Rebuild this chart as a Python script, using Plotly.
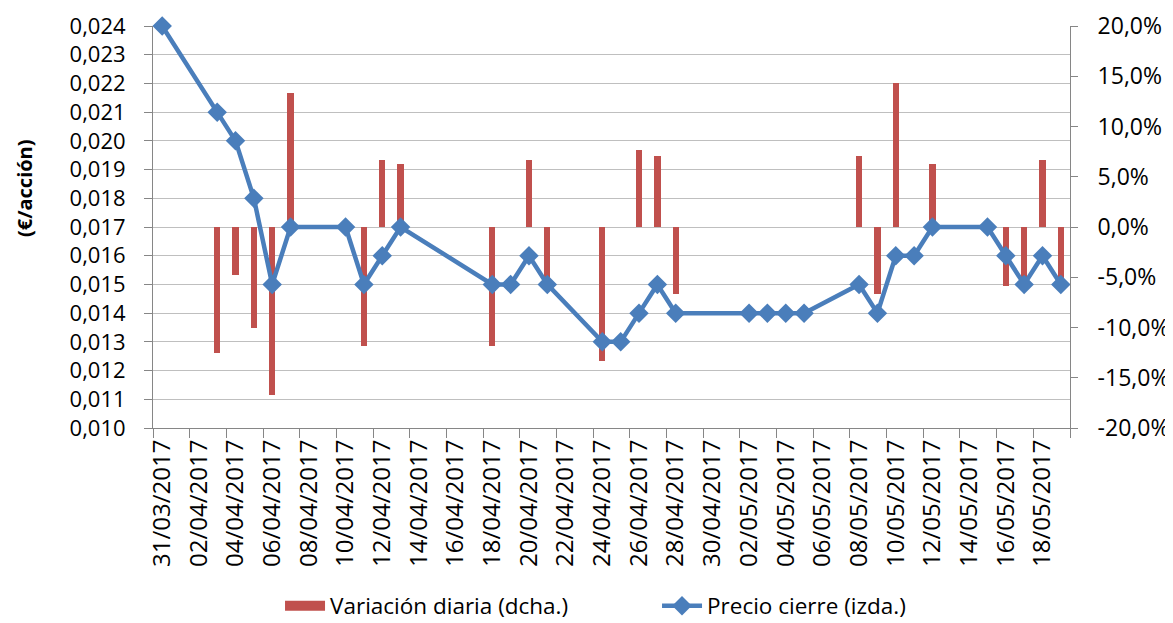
import plotly.graph_objects as go

dates = ["2017-03-31", "2017-04-03", "2017-04-04", "2017-04-05", "2017-04-06", "2017-04-07",
         "2017-04-10", "2017-04-11", "2017-04-12", "2017-04-13", "2017-04-18", "2017-04-19",
         "2017-04-20", "2017-04-21", "2017-04-24", "2017-04-25", "2017-04-26", "2017-04-27",
         "2017-04-28", "2017-05-02", "2017-05-03", "2017-05-04", "2017-05-05", "2017-05-08",
         "2017-05-09", "2017-05-10", "2017-05-11", "2017-05-12", "2017-05-15", "2017-05-16",
         "2017-05-17", "2017-05-18", "2017-05-19"]

precio_cierre = [0.024, 0.021, 0.020, 0.018, 0.015, 0.017, 0.017, 0.015, 0.016, 0.017, 0.015,
                 0.015, 0.016, 0.015, 0.013, 0.013, 0.014, 0.015, 0.014, 0.014, 0.014, 0.014,
                 0.014, 0.015, 0.014, 0.016, 0.016, 0.017, 0.017, 0.016, 0.015, 0.016, 0.015]

variacion_diaria = [None, -12.5, -4.8, -10.0, -16.7, 13.3, 0.0, -11.8, 6.7, 6.3, -11.8,
                    0.0, 6.7, -6.3, -13.3, 0.0, 7.7, 7.1, -6.7, 0.0, 0.0, 0.0,
                    0.0, 7.1, -6.7, 14.3, 0.0, 6.3, 0.0, -5.9, -6.3, 6.7, -6.3]

pct_tickvals = [-20, -15, -10, -5, 0, 5, 10, 15, 20]
pct_ticktext = ["-20,0%", "-15,0%", "-10,0%", "-5,0%", "0,0%", "5,0%", "10,0%", "15,0%", "20,0%"]

DAY = 86400000
FONT = "'Open Sans', sans-serif"
AXIS_GRAY = "#868686"
GRID_GRAY = "#BFBFBF"
RED = "#C0504D"
BLUE = "#4A7EBB"

fig = go.Figure()
fig.add_trace(go.Bar(
    x=dates, y=variacion_diaria, name="Variación diaria (dcha.)",
    marker=dict(color=RED, line=dict(width=0)),
    width=0.345 * DAY, yaxis="y", showlegend=False,
))
# legend entry for the bars (wide red rectangle as in the reference)
fig.add_trace(go.Scatter(
    x=[None], y=[None], name="Variación diaria (dcha.)", mode="lines",
    line=dict(color=RED, width=14), yaxis="y", hoverinfo="skip",
))
fig.add_trace(go.Scatter(
    x=dates, y=precio_cierre, name="Precio cierre (izda.)",
    mode="lines+markers",
    line=dict(color=BLUE, width=4.5),
    marker=dict(symbol="diamond", size=15, color=BLUE),
    cliponaxis=False,
    yaxis="y2",
))

fig.update_layout(
    width=1165, height=615,
    margin=dict(l=145, r=103, t=18, b=195),
    paper_bgcolor="white", plot_bgcolor="white",
    separators=",.",
    font=dict(family=FONT, size=22, color="#000000"),
    showlegend=True,
    legend=dict(orientation="h", xref="container", yref="container",
                x=0.2335, xanchor="left", y=0.0276, yanchor="middle",
                font=dict(size=22.5, family=FONT), traceorder="normal",
                itemwidth=40, entrywidth=322),
    xaxis=dict(
        type="date", automargin=False,
        range=["2017-03-30 12:00", "2017-05-19 12:00"],
        tick0="2017-03-31", dtick=2 * DAY, tickformat="%d/%m/%Y",
        tickangle=-90, ticks="outside", ticklen=1, tickcolor="rgba(0,0,0,0)",
        minor=dict(ticks="outside", ticklen=9, tickcolor=AXIS_GRAY, tickwidth=1,
                   tick0="2017-03-30 12:00", dtick=2 * DAY, showgrid=False),
        showline=True, linecolor=AXIS_GRAY, linewidth=1,
        showgrid=False, zeroline=False,
        tickfont=dict(size=24, family=FONT),
    ),
    yaxis=dict(
        side="right", range=[-20, 20], automargin=False,
        tickmode="array", tickvals=pct_tickvals, ticktext=pct_ticktext,
        showgrid=False, zeroline=False,
        showline=True, linecolor=AXIS_GRAY, linewidth=1,
        ticks="outside", ticklen=7, tickcolor=AXIS_GRAY,
        ticklabelstandoff=15,
        tickfont=dict(size=23, family=FONT),
    ),
    yaxis2=dict(
        overlaying="y", side="left", range=[0.010, 0.024], automargin=False,
        tick0=0.010, dtick=0.001, tickformat=".3f",
        showgrid=True, gridcolor=GRID_GRAY, gridwidth=1,
        zeroline=False,
        showline=True, linecolor=AXIS_GRAY, linewidth=1,
        ticks="outside", ticklen=8, tickcolor=AXIS_GRAY,
        ticklabelstandoff=14,
        tickfont=dict(size=22, family=FONT),
    ),
    annotations=[dict(
        text="<b>(€/acción)</b>", textangle=-90,
        xref="paper", yref="paper", x=-0.1407, y=0.597,
        xanchor="center", yanchor="middle", showarrow=False,
        font=dict(size=20, family=FONT, color="#000000"),
    )],
    bargap=0,
)

fig.write_html("out.html")
